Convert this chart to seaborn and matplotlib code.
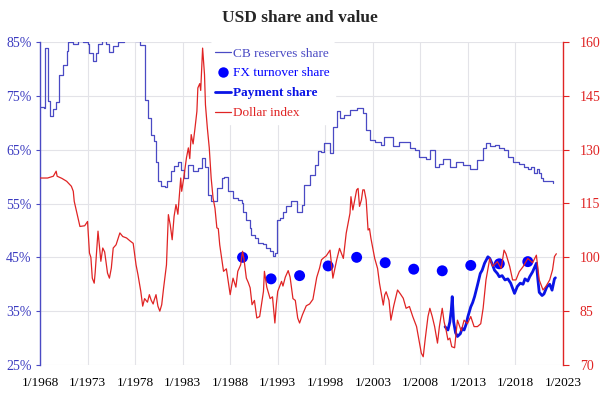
import matplotlib
matplotlib.use("Agg")
import matplotlib.pyplot as plt
import seaborn as sns
import pandas as pd
from matplotlib.lines import Line2D

# ---------------- data ----------------
cb_years = [1968.0, 1968.4, 1968.5, 1968.55, 1968.75, 1968.8, 1969.1, 1969.4, 1969.7, 1969.95,
            1970.05, 1970.4, 1970.8, 1970.9, 1971.5, 1972.0, 1972.5, 1973.0, 1973.2, 1973.6,
            1973.9, 1974.1, 1974.5, 1974.97, 1975.3, 1975.7, 1976.2, 1976.8, 1977.4, 1978.0,
            1978.5, 1978.9, 1979.0, 1979.35, 1979.7, 1980.0, 1980.2, 1980.4, 1980.7, 1981.1,
            1981.4, 1981.8, 1982.1, 1982.5, 1982.8, 1983.1, 1983.6, 1984.1, 1984.6, 1985.0,
            1985.3, 1985.7, 1986.0, 1986.6, 1987.1, 1987.4, 1987.8, 1988.3, 1988.8, 1989.2,
            1989.4, 1989.7, 1990.1, 1990.2, 1990.6, 1990.9, 1991.5, 1991.8, 1992.2, 1992.5,
            1992.7, 1992.9, 1993.2, 1993.6, 1993.9, 1994.4, 1995.0, 1995.5, 1995.8, 1996.4,
            1996.9, 1997.2, 1997.5, 1997.9, 1998.5, 1998.8, 1999.2, 1999.5, 2000.0, 2000.6,
            2001.3, 2002.0, 2002.3, 2002.7, 2003.2, 2003.9, 2004.2, 2005.1, 2005.8, 2006.9,
            2007.4, 2007.9, 2008.6, 2009.0, 2009.5, 2010.0, 2010.4, 2011.1, 2011.8, 2012.5,
            2013.2, 2013.9, 2014.0, 2014.6, 2014.9, 2015.3, 2015.8, 2016.3, 2016.8, 2017.2,
            2017.7, 2018.4, 2018.9, 2019.3, 2019.6, 2020.0, 2020.3, 2020.5, 2020.7, 2020.9,
            2021.3, 2021.9]
cb_share = [73.0, 72.8, 73.0, 83.9, 83.9, 74.0, 71.2, 72.5, 73.8, 74.5,
            78.9, 80.8, 83.3, 85.0, 84.7, 85.2, 85.0, 84.6, 83.0, 81.5,
            83.0, 84.7, 85.2, 84.7, 83.1, 84.3, 85.0, 85.3, 85.5, 85.2,
            84.5, 84.4, 74.3, 70.9, 67.8, 66.6, 62.8, 59.1, 58.2, 58.0,
            59.1, 61.0, 61.9, 62.8, 61.3, 59.7, 62.2, 61.0, 61.6, 63.4,
            61.8, 56.6, 55.4, 57.9, 59.7, 60.0, 57.3, 56.0, 55.6, 55.1,
            53.5, 52.0, 50.4, 49.2, 48.6, 47.7, 47.4, 46.7, 46.1, 45.2,
            45.8, 52.0, 52.3, 53.5, 54.6, 55.4, 53.5, 54.8, 58.5, 60.3,
            62.2, 64.7, 64.6, 66.2, 64.3, 69.3, 72.1, 70.8, 71.4, 72.4,
            72.7, 71.9, 68.7, 66.8, 66.5, 65.9, 67.3, 65.6, 66.5, 65.25,
            65.0, 63.7, 63.2, 65.0, 61.8, 62.4, 63.2, 61.8, 62.8, 62.2,
            61.5, 61.5, 63.1, 65.25, 66.2, 65.6, 65.9, 65.4, 64.9, 63.7,
            62.8, 62.3, 61.8, 61.5, 61.8, 60.6, 61.5, 60.6, 59.7, 59.1,
            59.2, 58.9]

fx_years = [1989.3, 1992.3, 1995.3, 1998.3, 2001.3, 2004.3, 2007.3, 2010.3, 2013.3, 2016.3, 2019.3]
fx_share = [45.0, 41.0, 41.6, 43.4, 45.0, 44.0, 42.8, 42.5, 43.5, 43.8, 44.2]

pay_years = [2010.6, 2010.9, 2011.1, 2011.25, 2011.35, 2011.5, 2011.7, 2011.9, 2012.2, 2012.4,
             2012.6, 2012.8, 2013.0, 2013.3, 2013.5, 2013.7, 2014.0, 2014.3, 2014.5, 2014.75,
             2015.1, 2015.3, 2015.5, 2015.8, 2016.1, 2016.3, 2016.6, 2016.9, 2017.2, 2017.5,
             2017.9, 2018.2, 2018.5, 2018.8, 2019.0, 2019.3, 2019.5, 2019.8, 2020.2, 2020.35,
             2020.5, 2020.8, 2021.0, 2021.3, 2021.6, 2021.85, 2022.1, 2022.2]
pay_share = [32.1, 31.5, 33.0, 35.2, 37.7, 33.0, 31.0, 30.3, 30.8, 31.8,
             31.5, 32.5, 34.0, 35.8, 36.6, 37.7, 39.8, 42.0, 42.6, 43.9,
             45.1, 44.8, 44.0, 42.6, 42.0, 41.4, 41.6, 40.8, 41.0, 40.2,
             38.3, 39.6, 40.2, 40.0, 41.0, 40.6, 41.4, 42.3, 43.9, 41.0,
             38.5, 37.9, 38.2, 39.5, 40.0, 38.9, 41.0, 41.2]

dx_years = [1968.0, 1968.8, 1969.4, 1969.7, 1969.8, 1970.3, 1970.8, 1971.3, 1971.5, 1971.6,
            1972.0, 1972.2, 1972.7, 1973.0, 1973.2, 1973.35, 1973.5, 1973.7, 1973.8, 1974.1,
            1974.4, 1974.6, 1974.8, 1975.1, 1975.3, 1975.5, 1975.7, 1976.0, 1976.4, 1976.7,
            1977.1, 1977.5, 1977.8, 1978.1, 1978.3, 1978.6, 1978.8, 1979.0, 1979.3, 1979.5,
            1979.7, 1979.9, 1980.0, 1980.2, 1980.4, 1980.6, 1980.8, 1981.0, 1981.3, 1981.5,
            1981.7, 1981.9, 1982.1, 1982.3, 1982.5, 1982.8, 1982.9, 1983.1, 1983.4, 1983.6,
            1983.75, 1983.9, 1984.1, 1984.3, 1984.5, 1984.6, 1984.8, 1984.9, 1985.1, 1985.3,
            1985.4, 1985.6, 1985.8, 1986.0, 1986.2, 1986.4, 1986.6, 1986.75, 1986.9, 1987.1,
            1987.3, 1987.6, 1988.0, 1988.15, 1988.3, 1988.6, 1988.8, 1989.1, 1989.3, 1989.45,
            1989.7, 1989.9, 1990.1, 1990.3, 1990.55, 1990.8, 1991.1, 1991.5, 1991.6, 1991.85,
            1992.2, 1992.45, 1992.7, 1992.85, 1993.0, 1993.4, 1993.55, 1993.8, 1994.1, 1994.3,
            1994.6, 1994.85, 1995.1, 1995.3, 1995.6, 1996.0, 1996.35, 1996.7, 1997.1, 1997.4,
            1997.6, 1997.8, 1998.1, 1998.5, 1998.8, 1999.2, 1999.5, 1999.9, 2000.2, 2000.4,
            2000.6, 2000.7, 2000.9, 2001.3, 2001.45, 2001.6, 2001.8, 2001.95, 2002.1, 2002.3,
            2002.5, 2002.65, 2002.8, 2003.2, 2003.5, 2003.7, 2004.1, 2004.25, 2004.4, 2004.7,
            2004.9, 2005.2, 2005.6, 2005.9, 2006.2, 2006.5, 2006.85, 2007.2, 2007.6, 2007.85,
            2008.1, 2008.3, 2008.5, 2008.8, 2009.0, 2009.25, 2009.5, 2009.8, 2010.0, 2010.3,
            2010.5, 2010.7, 2010.9, 2011.1, 2011.3, 2011.6, 2011.9, 2012.3, 2012.6, 2012.95,
            2013.3, 2013.65, 2014.0, 2014.35, 2014.6, 2014.9, 2015.3, 2015.6, 2016.1, 2016.5,
            2016.8, 2017.0, 2017.4, 2017.7, 2018.05, 2018.4, 2018.8, 2019.3, 2019.8, 2020.2,
            2020.5, 2020.9, 2021.2, 2021.6, 2021.9, 2022.1, 2022.3]
dx_index = [122.1, 122.1, 122.6, 124.0, 122.6, 122.0, 121.2, 119.8, 118.4, 115.6,
            111.0, 108.6, 108.8, 110.0, 101.2, 100.0, 94.2, 92.8, 95.7, 107.3,
            98.9, 102.6, 101.5, 95.6, 94.2, 97.0, 102.6, 103.5, 106.8, 105.8,
            105.4, 104.5, 103.9, 97.9, 95.2, 90.5, 86.4, 88.5, 87.5, 89.6,
            88.0, 87.0, 88.0, 89.6, 86.4, 85.0, 86.8, 91.5, 97.9, 111.9,
            109.0, 104.9, 111.4, 114.7, 112.0, 122.1, 118.4, 121.8, 127.7, 130.5,
            127.5, 134.2, 131.6, 136.0, 140.7, 147.2, 148.4, 146.5, 158.3, 150.9,
            142.5, 136.0, 130.5, 122.1, 116.5, 113.7, 108.2, 108.0, 103.5, 99.8,
            96.1, 96.8, 89.6, 92.0, 94.2, 91.7, 96.1, 97.9, 101.7, 99.5,
            94.2, 93.0, 91.5, 86.8, 88.0, 83.1, 83.5, 90.5, 96.1, 91.7,
            88.5, 89.0, 81.7, 86.8, 90.5, 93.3, 92.0, 94.5, 96.3, 94.5,
            88.5, 88.0, 83.1, 81.7, 84.0, 86.5, 87.0, 88.3, 94.4, 97.0,
            99.3, 99.8, 100.4, 102.0, 94.2, 99.3, 102.5, 99.7, 106.7, 109.5,
            112.3, 116.9, 113.2, 118.8, 119.2, 114.2, 116.0, 118.8, 118.8, 116.0,
            107.6, 108.0, 105.3, 99.7, 96.9, 92.8, 86.7, 89.5, 90.4, 88.0,
            82.5, 86.5, 90.9, 89.8, 88.6, 85.8, 86.3, 83.5, 80.7, 77.0,
            73.3, 72.3, 77.0, 83.5, 85.8, 83.5, 80.7, 76.1, 80.7, 85.8,
            82.0, 79.8, 77.0, 77.5, 75.1, 74.8, 82.5, 79.5, 82.5, 81.5,
            83.5, 80.7, 80.7, 81.5, 85.8, 93.7, 99.7, 97.5, 98.8, 96.9,
            102.0, 101.0, 97.4, 93.7, 93.7, 96.0, 97.4, 99.7, 98.5, 100.6,
            93.7, 90.9, 91.9, 93.7, 96.5, 100.2, 101.0]

x_ticks = [1968, 1973, 1978, 1983, 1988, 1993, 1998, 2003, 2008, 2013, 2018, 2023]
x_tick_labels = ["1/%d" % y for y in x_ticks]
left_ticks = [25, 35, 45, 55, 65, 75, 85]
left_tick_labels = ["%d%%" % v for v in left_ticks]
right_ticks = [70, 85, 100, 115, 130, 145, 160]

title = "USD share and value"
labels = ["CB reserves share", "FX turnover share", "Payment share", "Dollar index"]

# ---------------- style ----------------
sns.set_style("white")
plt.rcParams["font.family"] = ["Liberation Serif", "DejaVu Serif"]

CB_C = "#4a4ac4"
FX_C = "#0000ff"
PAY_C = "#0a14e6"
DX_C = "#e02424"
GRID_C = "#e3e3e8"

cb_df = pd.DataFrame({"year": cb_years, "share": cb_share})
fx_df = pd.DataFrame({"year": fx_years, "share": fx_share})
pay_df = pd.DataFrame({"year": pay_years, "share": pay_share})
dx_df = pd.DataFrame({"year": dx_years, "index": dx_index})

fig = plt.figure(figsize=(6.0, 3.93), dpi=100)
ax = fig.add_axes([40 / 600, 1 - 365 / 393, 523 / 600, 323 / 393])
ax2 = ax.twinx()

sns.lineplot(data=cb_df, x="year", y="share", ax=ax, color=CB_C, linewidth=0.9,
             estimator=None, drawstyle="steps-post")
sns.scatterplot(data=fx_df, x="year", y="share", ax=ax, color=FX_C, s=62,
                edgecolor="none", zorder=3)
sns.lineplot(data=pay_df, x="year", y="share", ax=ax, color=PAY_C, linewidth=2.0,
             estimator=None)
sns.lineplot(data=dx_df, x="year", y="index", ax=ax2, color=DX_C, linewidth=0.9,
             estimator=None)

ax.set_xlim(1968, 2023)
ax.set_ylim(25, 85)
ax2.set_ylim(70, 160)

ax.set_xticks(x_ticks)
ax.set_xticklabels(x_tick_labels, fontsize=9.6, color="black")
ax.set_yticks(left_ticks)
ax.set_yticklabels(left_tick_labels, fontsize=10, color="#3b3bc0")
ax2.set_yticks(right_ticks)
ax2.set_yticklabels([str(v) for v in right_ticks], fontsize=10, color=DX_C)

ax.set_xlabel("")
ax.set_ylabel("")
ax2.set_ylabel("")

ax.grid(True, color=GRID_C, linewidth=0.8)
ax.set_axisbelow(True)
ax2.grid(False)

for a in (ax, ax2):
    for s in ("top", "bottom", "left", "right"):
        a.spines[s].set_visible(False)
ax.spines["left"].set_visible(True)
ax.spines["left"].set_color(CB_C)
ax.spines["left"].set_linewidth(1.0)
ax2.spines["right"].set_visible(True)
ax2.spines["right"].set_color(DX_C)
ax2.spines["right"].set_linewidth(1.0)

ax.tick_params(axis="x", length=0, pad=9)
ax.tick_params(axis="y", length=3, color=CB_C, pad=3)
ax2.tick_params(axis="y", length=4, color=DX_C, pad=8)

fig.suptitle(title, x=0.5, y=0.975, fontsize=12.5, fontweight="bold")

handles = [
    Line2D([], [], color=CB_C, linewidth=0.9),
    Line2D([], [], color=FX_C, marker="o", linestyle="none", markersize=7.5, markeredgewidth=0),
    Line2D([], [], color=PAY_C, linewidth=2.0),
    Line2D([], [], color=DX_C, linewidth=0.9),
]
leg = ax2.legend(handles, labels, loc="upper left", bbox_to_anchor=(0.325, 1.0),
                 frameon=True, framealpha=1.0, edgecolor="white", facecolor="white",
                 fontsize=9.5, handlelength=1.2, handletextpad=0.15, labelspacing=0.58,
                 borderpad=0.4, borderaxespad=0.0)
text_colors = [CB_C, FX_C, PAY_C, DX_C]
for t, c in zip(leg.get_texts(), text_colors):
    t.set_color(c)
leg.get_texts()[2].set_fontweight("bold")

fig.savefig("out.png", dpi=100)
